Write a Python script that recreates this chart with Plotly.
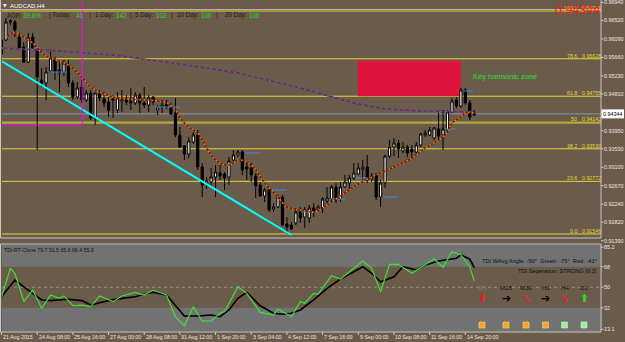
import plotly.graph_objects as go

W, H = 625, 342
def px(x): return x / W
def py(y): return 1 - y / H

# ---------------- DATA ----------------
opens = [0.95739, 0.96065, 0.96484, 0.96484, 0.96135, 0.95902, 0.95552, 0.96135, 0.95832, 0.95133,
         0.95063, 0.95343, 0.95599, 0.95366, 0.95319, 0.95482, 0.95063, 0.94737, 0.94970, 0.94667,
         0.94830, 0.94248, 0.94807, 0.94690, 0.94620, 0.94690, 0.94434, 0.94644, 0.94690, 0.94644,
         0.94597, 0.94784, 0.94597, 0.94550, 0.94737, 0.94434, 0.94504, 0.94574, 0.94504, 0.94364,
         0.93852, 0.93596, 0.93409, 0.93689, 0.93852, 0.93106, 0.92710, 0.92756, 0.92873, 0.92966,
         0.92943, 0.92873, 0.93269, 0.93386, 0.93456, 0.93106, 0.93083, 0.92896, 0.92687, 0.92430,
         0.92570, 0.92127, 0.92174, 0.92407, 0.91778, 0.91755, 0.91801, 0.92057, 0.91941, 0.91918,
         0.92151, 0.92104, 0.92151, 0.92314, 0.92360, 0.92640, 0.92360, 0.92640, 0.92733, 0.92850,
         0.92943, 0.93059, 0.93106, 0.92826, 0.92920, 0.92407, 0.92733, 0.93362, 0.93572, 0.93666,
         0.93479, 0.93572, 0.93526, 0.93456, 0.93619, 0.93852, 0.93852, 0.93782, 0.93991, 0.93852,
         0.93968, 0.94387, 0.94667, 0.94527, 0.94900, 0.94597, 0.94318]
highs = [0.96228, 0.96578, 0.96554, 0.96531, 0.96228, 0.96018, 0.96228, 0.96228, 0.95879, 0.95413,
         0.95436, 0.95855, 0.95669, 0.95552, 0.95599, 0.95599, 0.95133, 0.95086, 0.95133, 0.94900,
         0.94900, 0.94853, 0.94900, 0.94853, 0.94737, 0.94784, 0.94853, 0.94900, 0.94784, 0.94947,
         0.94853, 0.94830, 0.94970, 0.94784, 0.94760, 0.94550, 0.94667, 0.94667, 0.94597, 0.94714,
         0.94038, 0.93619, 0.93805, 0.93921, 0.93968, 0.93199, 0.92873, 0.93083, 0.93152, 0.93152,
         0.92989, 0.93339, 0.93502, 0.93502, 0.93502, 0.93199, 0.93199, 0.92966, 0.92756, 0.92617,
         0.92617, 0.92267, 0.92454, 0.92454, 0.91941, 0.91825, 0.92151, 0.92174, 0.92174, 0.92220,
         0.92267, 0.92220, 0.92407, 0.92640, 0.92687, 0.92733, 0.92756, 0.92920, 0.92920, 0.93199,
         0.93199, 0.93269, 0.93386, 0.92966, 0.92966, 0.92803, 0.93386, 0.93735, 0.93782, 0.93735,
         0.93689, 0.93619, 0.93619, 0.93689, 0.93898, 0.93968, 0.94038, 0.94038, 0.94364, 0.94434,
         0.94434, 0.94714, 0.94737, 0.94947, 0.94947, 0.94667, 0.94434]
lows = [0.95692, 0.96042, 0.96415, 0.96135, 0.95832, 0.95529, 0.95529, 0.95832, 0.93502, 0.94970,
        0.94667, 0.95296, 0.95133, 0.94853, 0.95226, 0.94970, 0.94667, 0.94690, 0.94597, 0.94620,
        0.94201, 0.94085, 0.94644, 0.94504, 0.94271, 0.94248, 0.94364, 0.94387, 0.94550, 0.94434,
        0.94550, 0.94364, 0.94481, 0.94387, 0.94550, 0.94318, 0.94364, 0.94457, 0.94318, 0.93805,
        0.93549, 0.93269, 0.93316, 0.93642, 0.93036, 0.92407, 0.92593, 0.92640, 0.92407, 0.92803,
        0.92570, 0.92687, 0.93223, 0.93339, 0.92920, 0.92803, 0.92756, 0.92384, 0.92407, 0.92290,
        0.92057, 0.92057, 0.92151, 0.91732, 0.91545, 0.91638, 0.91755, 0.91801, 0.91685, 0.91801,
        0.91941, 0.92057, 0.92034, 0.92267, 0.92290, 0.92267, 0.92290, 0.92617, 0.92570, 0.92803,
        0.92920, 0.92803, 0.92733, 0.92756, 0.92337, 0.92174, 0.92617, 0.93316, 0.93362, 0.93316,
        0.93432, 0.93339, 0.93316, 0.93386, 0.93572, 0.93805, 0.93828, 0.93735, 0.93735, 0.93502,
        0.93921, 0.94364, 0.94481, 0.94481, 0.94550, 0.94201, 0.94294]
closes = [0.96065, 0.96484, 0.96508, 0.96298, 0.95879, 0.95552, 0.96112, 0.95879, 0.95203, 0.95063,
          0.95319, 0.95646, 0.95319, 0.95296, 0.95529, 0.95063, 0.94737, 0.94947, 0.94667, 0.94830,
          0.94248, 0.94830, 0.94714, 0.94597, 0.94434, 0.94667, 0.94714, 0.94690, 0.94620, 0.94597,
          0.94784, 0.94597, 0.94550, 0.94714, 0.94620, 0.94504, 0.94550, 0.94504, 0.94341, 0.93852,
          0.93572, 0.93409, 0.93712, 0.93852, 0.93106, 0.92687, 0.92780, 0.92873, 0.92989, 0.92896,
          0.92850, 0.93246, 0.93386, 0.93456, 0.93036, 0.93059, 0.92920, 0.92663, 0.92430, 0.92570,
          0.92104, 0.92174, 0.92407, 0.91755, 0.91708, 0.91661, 0.92057, 0.91918, 0.92104, 0.92151,
          0.92057, 0.92174, 0.92360, 0.92384, 0.92640, 0.92337, 0.92640, 0.92756, 0.92850, 0.92966,
          0.93083, 0.93106, 0.92803, 0.92896, 0.92407, 0.92733, 0.93362, 0.93572, 0.93666, 0.93526,
          0.93572, 0.93432, 0.93456, 0.93619, 0.93875, 0.93898, 0.93968, 0.94015, 0.93828, 0.93991,
          0.94387, 0.94644, 0.94527, 0.94900, 0.94597, 0.94271, 0.94344]
bars = list(range(len(opens)))

date_ticks = [0, 8, 16, 24, 32, 40, 48, 56, 64, 72, 80, 88, 96, 104]
date_labels = ["21 Aug 2015", "24 Aug 08:00", "25 Aug 16:00", "27 Aug 00:00", "28 Aug 08:00",
               "31 Aug 12:00", "1 Sep 20:00", "3 Sep 04:00", "4 Sep 12:00", "7 Sep 16:00",
               "9 Sep 00:00", "10 Sep 08:00", "11 Sep 16:00", "14 Sep 20:00"]
price_ticks = [0.96940, 0.96520, 0.96090, 0.95660, 0.95230, 0.94810, 0.93950, 0.93530,
               0.93100, 0.92670, 0.92240, 0.91820, 0.91390]
last_price = 0.94344

# fast MA (dotted orange)
ma_x = [1, 3, 7, 9, 11, 15, 18, 20, 22, 25, 28, 33, 37, 39, 40, 42, 44, 45, 47, 49, 51, 53, 55, 57, 59,
        62, 64, 67, 70, 72, 74, 77, 80, 83, 88, 92, 95, 98, 100, 101, 103, 104, 106]
ma_y = [0.96135, 0.96228, 0.95995, 0.95762, 0.95646, 0.95482, 0.95203, 0.94970, 0.94853, 0.94737,
        0.94690, 0.94667, 0.94597, 0.94434, 0.94248, 0.94038, 0.93898, 0.93735, 0.93386, 0.93199,
        0.93152, 0.93269, 0.93223, 0.93036, 0.92733, 0.92407, 0.92174, 0.92104, 0.92057, 0.92151,
        0.92290, 0.92500, 0.92710, 0.92873, 0.93106, 0.93316, 0.93549, 0.93735, 0.93921, 0.94131,
        0.94271, 0.94364, 0.94364]
# slow MA (purple/green dashed)
slow_x = [0, 13, 25, 40, 53, 67, 79, 86, 94, 102, 106]
slow_y = [0.95879, 0.95809, 0.95716, 0.95506, 0.95296, 0.94947, 0.94597, 0.94457, 0.94411, 0.94387, 0.94387]
# trendline
trend_x = [0, 65]
trend_y = [0.95576, 0.91522]
# blue level markers: (start bar, end bar, price)
blue_marks = [(7.1, 8.6, 0.95879), (10.9, 14.7, 0.95319), (34.4, 40.0, 0.94504), (54.6, 58.0, 0.93432),
              (60.4, 64.0, 0.92570), (67.2, 71.2, 0.92057), (73.7, 77.0, 0.92360), (79.3, 82.2, 0.92850),
              (85.5, 88.9, 0.92407), (99.4, 101.7, 0.93991), (103.7, 105.7, 0.94877)]
# Fibonacci levels
fib_levels = ["100.0", "78.6", "61.8", "50", "38.2", "23.6", "0.0"]
fib_prices = [0.96741, 0.95628, 0.94755, 0.94142, 0.93530, 0.92772, 0.91546]
# harmonic zone
zone_bars = [79.9, 103.0]
zone_prices = [0.94755, 0.95580]
# magenta box corner
mag_bar, mag_price = 18.1, 0.94085

# TDI
green_x = [0, 2, 3, 5, 7, 9, 11, 13, 14, 16, 18, 20, 22, 25, 27, 30, 32, 34, 37, 39, 41, 43, 45, 47, 49,
           50, 53, 55, 58, 61, 62, 65, 67, 68, 70, 71, 74, 76, 81, 83, 85, 87, 89, 92, 97, 99, 101, 103, 105, 106]
green_v = [41.7, 66.7, 62.3, 37.4, 47.6, 31.6, 43.2, 40.3, 42.4, 33.8, 34.4, 33.0, 42.4, 37.4, 42.4, 45.6,
           43.2, 47.6, 43.2, 24.2, 16.3, 33.0, 20.4, 20.4, 27.2, 28.6, 50.5, 44.7, 28.0, 25.7, 31.0, 24.2,
           37.4, 36.0, 44.7, 44.0, 60.2, 57.3, 73.1, 66.7, 46.1, 70.2, 70.2, 62.3, 74.8, 67.6, 81.3, 78.6,
           68.1, 55.5]
black_x = [0, 3, 6, 9, 11, 13, 15, 18, 20, 22, 24, 27, 30, 32, 34, 37, 39, 41, 44, 47, 49, 51, 53, 55, 58,
           61, 63, 65, 67, 70, 73, 76, 79, 81, 83, 85, 88, 90, 93, 95, 98, 100, 102, 103, 105, 106]
black_v = [41.7, 56.4, 47.6, 38.9, 38.3, 38.9, 39.5, 38.3, 34.4, 36.5, 38.3, 40.3, 41.7, 43.9, 45.6, 43.2,
           34.4, 24.8, 24.8, 25.7, 24.2, 30.1, 40.3, 45.6, 33.8, 27.2, 26.3, 27.2, 30.1, 38.9, 49.1, 57.3,
           63.7, 68.1, 62.3, 54.9, 59.3, 68.1, 65.2, 69.6, 73.1, 74.0, 75.5, 78.4, 74.8, 67.2]
tdi_ticks = [85.2, 68, 50, 32, 13.1]
tf_labels = ["M5", "M15", "M30", "H1", "H4", "D1"]
tf_arrows = ["⬇", "➔", "➘", "➔", "➘", "⬆"]
tf_arrow_colors = ["#FF1A1A", "#000000", "#FF1A1A", "#000000", "#FF1A1A", "#22DD22"]
tf_box_colors = ["#FFA31A", "#FFA31A", "#FFA31A", "#FFA31A", "#9AF09A", "#9AF09A"]
adr_parts = [("ADR:", "d"), ("39.6%", "g"), ("| Today:", "d"), ("41", "g"), ("|", "d"), ("1 Day:", "d"),
             ("142", "g"), ("|", "d"), ("5 Day:", "d"), ("102", "g"), ("|", "d"), ("10 Day:", "d"),
             ("100", "g"), ("|", "d"), ("20 Day:", "d"), ("106", "g")]

# ---------------- STYLE / GEOMETRY ----------------
BG = "#6B5B4B"
GRAYBAND = "#727272"
FIB = "#E4D43C"
FONT = "Liberation Sans"
X0P, X1P = 2, 601                  # plot area pixel x
MAIN_TOP, MAIN_BOT = 1, 238
SUB_TOP, SUB_BOT = 245, 331.7
XR = [(X0P - 1.5) / 4.46, (X1P - 1.5) / 4.46]
YR = [0.91452, 0.96974]
Y2R = [11.02, 87.14]
main_dom = [py(MAIN_BOT), py(MAIN_TOP)]
sub_dom = [py(SUB_BOT), py(SUB_TOP)]

def price_paper(p):
    return main_dom[0] + (p - YR[0]) / (YR[1] - YR[0]) * (main_dom[1] - main_dom[0])

def tdi_paper(v):
    return sub_dom[0] + (v - Y2R[0]) / (Y2R[1] - Y2R[0]) * (sub_dom[1] - sub_dom[0])

def bar_paper(i):
    return px(X0P) + (i - XR[0]) / (XR[1] - XR[0]) * (px(X1P) - px(X0P))

fig = go.Figure()

# slow MA
fig.add_trace(go.Scatter(x=slow_x, y=slow_y, mode="lines", line=dict(color="#7E1890", width=1.4),
                         xaxis="x", yaxis="y", hoverinfo="skip", showlegend=False))
fig.add_trace(go.Scatter(x=slow_x, y=slow_y, mode="lines", line=dict(color="#1FA51F", width=1.4, dash="2px,4px"),
                         xaxis="x", yaxis="y", hoverinfo="skip", showlegend=False))
# trendline
fig.add_trace(go.Scatter(x=trend_x, y=trend_y, mode="lines", line=dict(color="#00FFFF", width=2),
                         xaxis="x", yaxis="y", hoverinfo="skip", showlegend=False))
# blue markers
bx, by = [], []
for a, b, p in blue_marks:
    bx += [a, b, None]
    by += [p, p, None]
fig.add_trace(go.Scatter(x=bx, y=by, mode="lines", line=dict(color="#3A8EE0", width=1),
                         xaxis="x", yaxis="y", hoverinfo="skip", showlegend=False))
# candles
fig.add_trace(go.Candlestick(x=bars, open=opens, high=highs, low=lows, close=closes,
                             increasing=dict(fillcolor="white", line=dict(color="black", width=1)),
                             decreasing=dict(fillcolor="black", line=dict(color="black", width=1)),
                             whiskerwidth=0, xaxis="x", yaxis="y", hoverinfo="skip", showlegend=False))
# fast MA dotted orange/brown
fig.add_trace(go.Scatter(x=ma_x, y=ma_y, mode="lines", line=dict(color="#7A1C06", width=1.5, shape="spline"),
                         xaxis="x", yaxis="y", hoverinfo="skip", showlegend=False))
fig.add_trace(go.Scatter(x=ma_x, y=ma_y, mode="lines", line=dict(color="#E08A2A", width=1.5, dash="1.5px,2.5px", shape="spline"),
                         xaxis="x", yaxis="y", hoverinfo="skip", showlegend=False))

# TDI
fig.add_trace(go.Scatter(x=black_x, y=black_v, mode="lines", line=dict(color="#000000", width=1.6),
                         xaxis="x2", yaxis="y2", hoverinfo="skip", showlegend=False))
fig.add_trace(go.Scatter(x=green_x, y=green_v, mode="lines", line=dict(color="#3CE23C", width=1.2),
                         xaxis="x2", yaxis="y2", hoverinfo="skip", showlegend=False))

shapes = []
# indicator bands
shapes.append(dict(type="rect", xref="paper", yref="y2", x0=px(X0P), x1=px(X1P), y0=68, y1=Y2R[1],
                   fillcolor=GRAYBAND, line=dict(width=0), layer="below"))
shapes.append(dict(type="rect", xref="paper", yref="y2", x0=px(X0P), x1=px(X1P), y0=Y2R[0], y1=32,
                   fillcolor=GRAYBAND, line=dict(width=0), layer="below"))
shapes.append(dict(type="line", xref="paper", yref="y2", x0=px(X0P), x1=px(X1P), y0=50, y1=50,
                   line=dict(color="#8E8E8E", width=1, dash="dot"), layer="below"))
# harmonic zone
shapes.append(dict(type="rect", xref="x", yref="y", x0=zone_bars[0], x1=zone_bars[1],
                   y0=zone_prices[0], y1=zone_prices[1], fillcolor="#DC143C", line=dict(width=0), layer="below"))
# fib lines
for lv, p in zip(fib_levels, fib_prices):
    if lv == "50":
        shapes.append(dict(type="line", xref="paper", yref="y", x0=px(X0P), x1=px(X1P), y0=p, y1=p,
                           line=dict(color="#B3A93A", width=2.2), layer="below"))
    else:
        shapes.append(dict(type="line", xref="paper", yref="y", x0=px(X0P), x1=px(X1P), y0=p, y1=p,
                           line=dict(color=FIB, width=1), layer="below"))
# bid line
shapes.append(dict(type="line", xref="paper", yref="y", x0=px(X0P), x1=px(X1P), y0=last_price, y1=last_price,
                   line=dict(color="#8898A8", width=1), layer="below"))
# magenta box edges
shapes.append(dict(type="line", xref="x", yref="paper", x0=mag_bar, x1=mag_bar, y0=price_paper(mag_price), y1=py(MAIN_TOP),
                   line=dict(color="#FF00FF", width=1)))
shapes.append(dict(type="line", xref="paper", yref="y", x0=px(X0P), x1=bar_paper(mag_bar), y0=mag_price, y1=mag_price,
                   line=dict(color="#FF00FF", width=1)))
# pane borders
BORDER = "#C9C9C9"
shapes.append(dict(type="rect", xref="paper", yref="paper", x0=px(0.5), x1=px(601), y0=py(MAIN_BOT), y1=py(-2),
                   line=dict(color=BORDER, width=1), fillcolor="rgba(0,0,0,0)"))
shapes.append(dict(type="rect", xref="paper", yref="paper", x0=px(0.5), x1=px(601), y0=py(332), y1=py(244),
                   line=dict(color=BORDER, width=1), fillcolor="rgba(0,0,0,0)"))
shapes.append(dict(type="line", xref="paper", yref="paper", x0=px(0.5), x1=px(601), y0=py(9.5), y1=py(9.5),
                   line=dict(color="#B8B0A8", width=1)))
# price axis ticks
for p in price_ticks:
    yp = price_paper(p)
    shapes.append(dict(type="line", xref="paper", yref="paper", x0=px(601), x1=px(603.5), y0=yp, y1=yp,
                       line=dict(color=BORDER, width=1)))
for v in tdi_ticks:
    yp = tdi_paper(v)
    shapes.append(dict(type="line", xref="paper", yref="paper", x0=px(601), x1=px(603.5), y0=yp, y1=yp,
                       line=dict(color=BORDER, width=1)))
# date ticks
for i in date_ticks:
    shapes.append(dict(type="line", xref="paper", yref="paper", x0=bar_paper(i), x1=bar_paper(i),
                       y0=py(332), y1=py(335), line=dict(color=BORDER, width=1)))
# current price box
yb = price_paper(last_price)
shapes.append(dict(type="rect", xref="paper", yref="paper", x0=px(601.5), x1=px(624), y0=yb - 4.5 / H, y1=yb + 4.5 / H,
                   fillcolor="#FFFFFF", line=dict(color="#FFFFFF", width=0)))
# timeframe squares
tf_x = [482, 506, 526, 545.5, 564.5, 584]
for xc, col in zip(tf_x, tf_box_colors):
    shapes.append(dict(type="rect", xref="paper", yref="paper", x0=px(xc - 3), x1=px(xc + 3),
                       y0=py(328), y1=py(322), fillcolor=col, line=dict(color="#F2D7A0" if col.startswith("#FFA") else "#C8FAC8", width=0.6)))

ann = []
def A(x, y, text, size=5.5, color="#E6E6E6", xanchor="left", yanchor="middle", family=FONT, xref="paper", yref="paper"):
    ann.append(dict(x=x, y=y, xref=xref, yref=yref, text=text, showarrow=False, xanchor=xanchor, yanchor=yanchor,
                    font=dict(size=size, color=color, family=family), borderpad=0, borderwidth=0))

# price axis labels
for p in price_ticks:
    A(px(604), price_paper(p), f"{p:.5f}", size=5.4, color="#E8E8E8")
A(px(603), yb, f"{last_price:.5f}", size=5.4, color="#000000")
for v in tdi_ticks:
    A(px(604), tdi_paper(v), f"{v:g}", size=5.4, color="#E8E8E8")
# date labels
for i, lab in zip(date_ticks, date_labels):
    A(bar_paper(i) + 1.5 / W, py(336.5), lab, size=5.3, color="#E8E8E8")
# fib labels
for lv, p in zip(fib_levels, fib_prices):
    yp = price_paper(p) + 3.2 / H
    A(px(577), yp, lv, size=5.3, color=FIB, xanchor="right")
    A(px(600.5), yp, f"{p:.5f}", size=5.3, color=FIB, xanchor="right")
# big red last price (drawn over the 100.0 fib label, as in the terminal)
A(px(600), py(10), f"{last_price:.5f}", size=12.5, color="#FF1414", xanchor="right")
# title
A(px(3), py(5.5), "▼", size=4.5, color="#FFFFFF", family="DejaVu Sans")
A(px(9.5), py(5.5), "AUDCAD,H4", size=6, color="#FFFFFF")
# ADR line
adr_x = [7, 23, 49, 76, 89, 95, 116, 130, 135, 156, 171, 177, 201, 216, 225, 249]
for xx, (t, kind) in zip(adr_x, adr_parts):
    A(px(xx), py(15), t, size=6.3, color="#28DC28" if kind == "g" else "#1E1E1E")
# key harmonic zone text
A(px(473), py(77), "Key harmonic zone", size=7.5, color="#22E022")
# TDI texts
A(px(4), py(250), "TDI-RT-Clone 79.7 51.5 65.6 66.4 55.3", size=5.2, color="#111111")
A(px(596.5), py(260.5), "TDI WAvg Angle: -50°  Green: -75°  Red: -41°", size=5.7, color="#111111", xanchor="right")
A(px(596.5), py(270.5), "TDI Seperation: STRONG [9.2]", size=5.7, color="#111111", xanchor="right")
for j, (xc, lab, ar, ac) in enumerate(zip(tf_x, tf_labels, tf_arrows, tf_arrow_colors)):
    A(px(xc), py(287.5), lab, size=6.2, color="#8A7A6A" if j == 0 else "#111111", xanchor="center")
    A(px(xc), py(298.5), ar, size=11, color=ac, xanchor="center", family="DejaVu Sans")

ax_common = dict(showgrid=False, zeroline=False, showticklabels=False, showline=False, ticks="", fixedrange=True)
fig.update_layout(
    width=W, height=H, margin=dict(l=0, r=0, t=0, b=0),
    paper_bgcolor=BG, plot_bgcolor=BG, showlegend=False,
    xaxis=dict(domain=[px(X0P), px(X1P)], range=XR, anchor="y", rangeslider=dict(visible=False), **ax_common),
    yaxis=dict(domain=main_dom, range=YR, anchor="x", **ax_common),
    xaxis2=dict(domain=[px(X0P), px(X1P)], range=XR, anchor="y2", **ax_common),
    yaxis2=dict(domain=sub_dom, range=Y2R, anchor="x2", **ax_common),
    shapes=shapes, annotations=ann,
)
fig.write_html("out.html")
